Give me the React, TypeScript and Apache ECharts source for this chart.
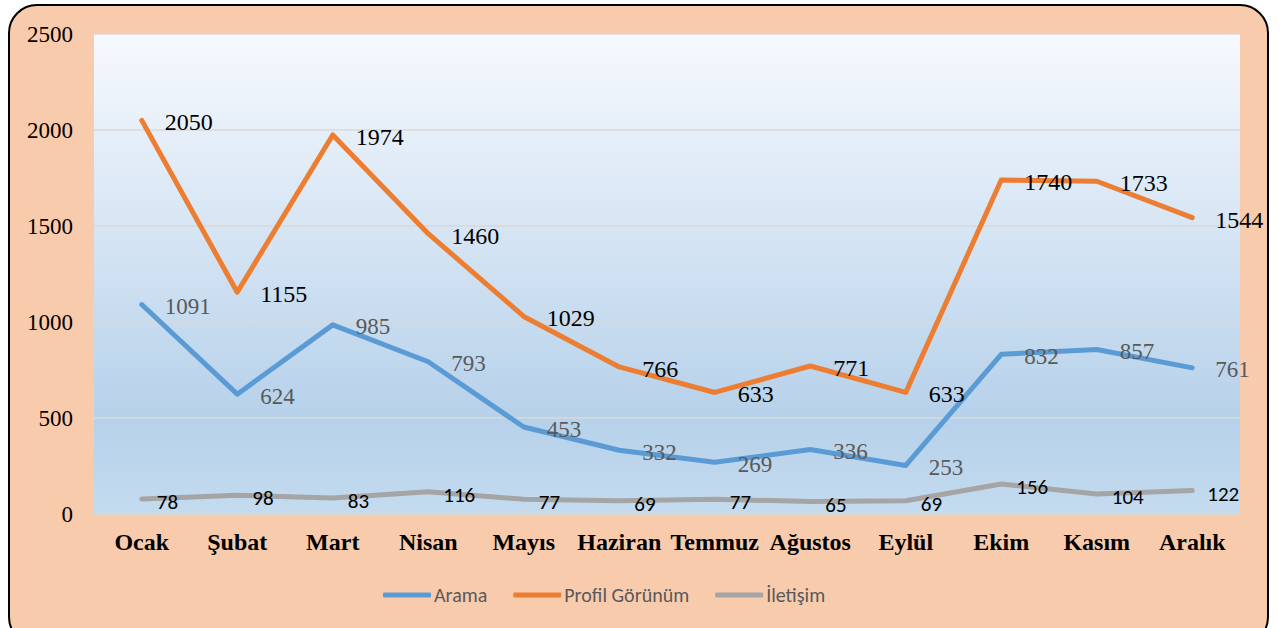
import React, { useEffect, useRef } from "react";
import * as echarts from "echarts";

const months = ["Ocak", "Şubat", "Mart", "Nisan", "Mayıs", "Haziran", "Temmuz", "Ağustos", "Eylül", "Ekim", "Kasım", "Aralık"];
const arama = [1091, 624, 985, 793, 453, 332, 269, 336, 253, 832, 857, 761];
const profil = [2050, 1155, 1974, 1460, 1029, 766, 633, 771, 633, 1740, 1733, 1544];
const iletisim = [78, 98, 83, 116, 77, 69, 77, 65, 69, 156, 104, 122];

const serif = "'Liberation Serif', 'Times New Roman', serif";
const sans = "Carlito, Calibri, 'Liberation Sans Narrow', 'Open Sans', sans-serif";

function lineSeries(name: string, data: number[], color: string, label: any) {
  return {
    name,
    type: "line",
    data,
    symbol: "circle",
    symbolSize: 2,
    showSymbol: true,
    color,
    itemStyle: { color },
    lineStyle: { width: 5, color, cap: "round", join: "round" },
    label: { show: true, position: "right", ...label },
  };
}

export default function App() {
  const ref = useRef<HTMLDivElement>(null);
  useEffect(() => {
    if (!ref.current) return;
    const chart = echarts.init(ref.current, null, { renderer: "svg" });
    chart.setOption({
      animation: false,
      backgroundColor: "#ffffff",
      graphic: [
        {
          type: "rect",
          z: -10,
          silent: true,
          shape: { x: 9, y: 5, width: 1259, height: 640, r: 28 },
          style: { fill: "#F8CBAD", stroke: "#000000", lineWidth: 2 },
        },
      ],
      grid: {
        left: 94,
        right: 44,
        top: 34,
        bottom: 114,
        show: true,
        borderWidth: 0,
        backgroundColor: {
          type: "linear",
          x: 0, y: 0, x2: 0, y2: 1,
          colorStops: [
            { offset: 0, color: "#F6F9FD" },
            { offset: 0.45, color: "#D3E3F3" },
            { offset: 0.8, color: "#B6D1EA" },
            { offset: 1, color: "#C4DBEF" },
          ],
        },
      },
      legend: {
        top: 580,
        left: 378,
        icon: "roundRect",
        itemWidth: 48,
        itemHeight: 5,
        itemGap: 26,
        textStyle: { fontFamily: sans, fontSize: 20, color: "#595959", padding: [0, 0, 0, -2] },
        data: ["Arama", "Profil Görünüm", "İletişim"],
      },
      xAxis: {
        type: "category",
        data: months,
        boundaryGap: true,
        axisLine: { show: false },
        axisTick: { show: false },
        axisLabel: {
          fontFamily: serif,
          fontWeight: "bold",
          fontSize: 24,
          color: "#000000",
          margin: 16,
          interval: 0,
        },
      },
      yAxis: {
        type: "value",
        min: 0,
        max: 2500,
        interval: 500,
        axisLine: { show: false },
        axisTick: { show: false },
        axisLabel: {
          fontFamily: serif,
          fontSize: 23,
          color: "#000000",
          margin: 21,
          formatter: (v: number) => String(v),
        },
        splitLine: { lineStyle: { color: "#D9D9D9", width: 1.5 } },
      },
      series: [
        lineSeries("Arama", arama, "#5B9BD5", {
          distance: 22,
          offset: [0, 2],
          fontFamily: serif,
          fontSize: 23,
          color: "#595959",
        }),
        lineSeries("Profil Görünüm", profil, "#ED7D31", {
          distance: 22,
          offset: [0, 2],
          fontFamily: serif,
          fontSize: 24,
          color: "#000000",
        }),
        lineSeries("İletişim", iletisim, "#A5A5A5", {
          distance: 14,
          offset: [0, 3],
          fontFamily: sans,
          fontSize: 21,
          color: "#000000",
        }),
      ],
    });
    return () => chart.dispose();
  }, []);
  return (
    <div
      ref={ref}
      style={{ position: "fixed", left: 0, top: 0, width: 1284, height: 628 }}
    />
  );
}
